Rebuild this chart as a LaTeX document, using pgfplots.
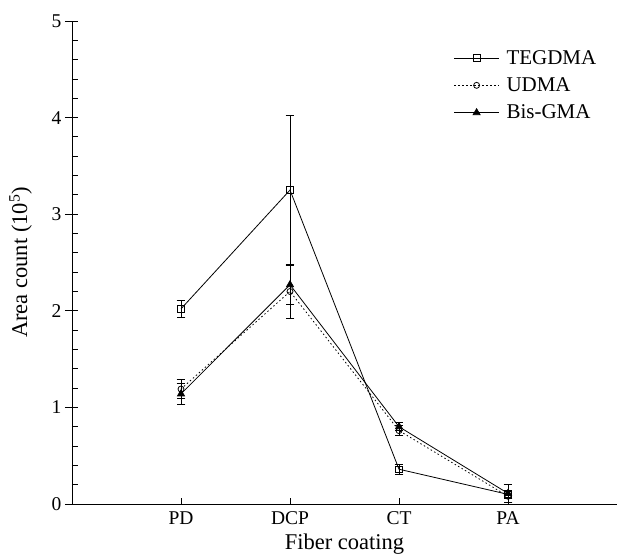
\documentclass[border=0pt]{standalone}
\usepackage{fontspec}
\setmainfont{Liberation Serif}
\usepackage{pgfplots}
\pgfplotsset{compat=1.18}
\begin{document}
\begin{tikzpicture}
\begin{axis}[
  scale only axis,
  width=545pt, height=483pt,
  xmin=0, xmax=5, ymin=0, ymax=5,
  axis x line*=bottom, axis y line*=left,
  axis line style={line width=0.9pt},
  xtick={1,2,3,4},
  xticklabels={PD,DCP,CT,PA},
  ytick={0,1,2,3,4,5},
  minor y tick num=4,
  tick align=inside,
  major tick length=6pt,
  minor tick length=5.5pt,
  tick style={line width=0.9pt, black},
  extra y ticks={0,1,2,3,4,5},
  extra y tick labels={},
  extra y tick style={tick align=outside, major tick length=7pt},
  /pgf/number format/assume math mode=true,
  tick label style={font=\fontsize{19.5}{22}\selectfont},
  xticklabel style={yshift=-4pt},
  yticklabel style={xshift=-7pt},
  xlabel={Fiber coating},
  ylabel={Area count (10\textsuperscript{5})},
  label style={font=\fontsize{22.5}{26}\selectfont},
  xlabel style={yshift=-2pt},
  ylabel style={yshift=6pt},
  legend style={draw=none, at={(0.70,0.944)}, anchor=north west,
    font=\fontsize{21}{24}\selectfont, row sep=8pt, inner sep=0pt,
    /tikz/every odd column/.append style={column sep=5pt}},
  legend cell align=left,
  legend image code/.code={\draw[mark repeat=2,mark phase=2] plot coordinates {(0pt,0pt) (22.5pt,0pt) (45pt,0pt)};},
  error bars/error bar style={line width=0.8pt, black, solid},
  error bars/error mark options={rotate=90, mark size=4.3pt, line width=0.8pt, black, solid},
]
\addplot[black, line width=0.8pt, mark=square, mark size=3.3pt, mark options={solid, line width=0.8pt},
  error bars/.cd, y dir=both, y explicit]
  coordinates {(1,2.02) +- (0,0.09) (2,3.25) +- (0,0.77) (3,0.36) +- (0,0.05) (4,0.10) +- (0,0.04)};
\addlegendentry{TEGDMA}
\addplot[black, line width=0.8pt, dash pattern=on 1.5pt off 2.5pt, mark=o, mark size=3pt, mark options={solid, line width=0.8pt},
  error bars/.cd, y dir=both, y explicit]
  coordinates {(1,1.19) +- (0,0.10) (2,2.20) +- (0,0.28) (3,0.76) +- (0,0.05) (4,0.08) +- (0,0.06)};
\addlegendentry{UDMA}
\addplot[black, line width=0.8pt, mark=triangle*, mark size=4pt, mark options={solid},
  error bars/.cd, y dir=both, y explicit]
  coordinates {(1,1.14) +- (0,0.11) (2,2.27) +- (0,0.20) (3,0.80) +- (0,0.04) (4,0.11) +- (0,0.09)};
\addlegendentry{Bis-GMA}
\end{axis}
\pgfresetboundingbox
\path[use as bounding box] (-72pt,-53pt) rectangle (545pt,504pt);
\end{tikzpicture}
\end{document}
